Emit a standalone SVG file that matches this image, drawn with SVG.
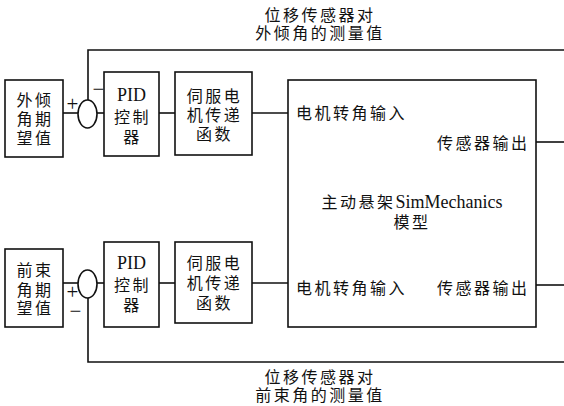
<svg xmlns="http://www.w3.org/2000/svg" width="564" height="406" viewBox="0 0 564 406">
  <style>
    .box { fill: #fff; stroke: #111; stroke-width: 1.6; }
    .sum { fill: #fff; stroke: #111; stroke-width: 1.6; }
    .wire { fill: none; stroke: #111; stroke-width: 1.6; }
    .cjk { font-family: "Noto Sans CJK SC", "Noto Sans", sans-serif; font-size: 16px; fill: #111; letter-spacing: 2.5px; }
    .lat { font-family: "Liberation Serif", serif; font-size: 18px; fill: #111; letter-spacing: 0; }
    .sign { font-family: "Liberation Serif", serif; font-size: 21px; fill: #111; }
    .mid { text-anchor: middle; }
  </style>
  <rect width="564" height="406" fill="#fff"/>

  <!-- connectors -->
  <g id="connectors">
    <!-- camber loop -->
    <line class="wire" x1="63" y1="113" x2="78" y2="113"/>
    <line class="wire" x1="97" y1="113" x2="104" y2="113"/>
    <line class="wire" x1="159" y1="113" x2="175" y2="113"/>
    <line class="wire" x1="252" y1="113" x2="288" y2="113"/>
    <line class="wire" x1="536" y1="142" x2="564" y2="142"/>
    <polyline class="wire" points="88,100 88,50 564,50"/>
    <!-- toe loop -->
    <line class="wire" x1="63" y1="283" x2="78" y2="283"/>
    <line class="wire" x1="97" y1="283" x2="104" y2="283"/>
    <line class="wire" x1="159" y1="283" x2="175" y2="283"/>
    <line class="wire" x1="252" y1="283" x2="288" y2="283"/>
    <line class="wire" x1="536" y1="285" x2="564" y2="285"/>
    <polyline class="wire" points="88,298 88,362 564,362"/>
  </g>

  <!-- feedback labels -->
  <g id="label-camber">
    <text class="cjk mid" x="320" y="21">位移传感器对</text>
    <text class="cjk mid" x="320" y="39">外倾角的测量值</text>
  </g>
  <g id="label-toe">
    <text class="cjk mid" x="320" y="383">位移传感器对</text>
    <text class="cjk mid" x="320" y="401">前束角的测量值</text>
  </g>

  <!-- camber loop nodes -->
  <g id="camber-setpoint">
    <rect class="box" x="5" y="80" width="58" height="77"/>
    <text class="cjk mid" x="35" y="106">外倾</text>
    <text class="cjk mid" x="35" y="125">角期</text>
    <text class="cjk mid" x="35" y="144">望值</text>
  </g>
  <g id="camber-sum">
    <ellipse class="sum" cx="87.5" cy="114" rx="9.5" ry="14"/>
    <text class="sign mid" x="72.5" y="111">+</text>
    <text class="sign mid" x="98.5" y="96">−</text>
  </g>
  <g id="camber-pid">
    <rect class="box" x="104" y="72" width="55" height="84"/>
    <text class="lat mid" x="131.5" y="101">PID</text>
    <text class="cjk mid" x="132.5" y="123">控制</text>
    <text class="cjk mid" x="132.5" y="143">器</text>
  </g>
  <g id="camber-servo">
    <rect class="box" x="175" y="72" width="77" height="83"/>
    <text class="cjk mid" x="214.5" y="102">伺服电</text>
    <text class="cjk mid" x="214.5" y="121">机传递</text>
    <text class="cjk mid" x="214.5" y="140">函数</text>
  </g>

  <!-- suspension model -->
  <g id="suspension-model">
    <rect class="box" x="288" y="80" width="248" height="247"/>
    <text class="cjk" x="296" y="119">电机转角输入</text>
    <text class="cjk" x="437" y="149">传感器输出</text>
    <text class="cjk mid" x="412" y="208">主动悬架<tspan class="lat" font-size="19">SimMechanics</tspan></text>
    <text class="cjk mid" x="412" y="228">模型</text>
    <text class="cjk" x="296" y="294">电机转角输入</text>
    <text class="cjk" x="437" y="294">传感器输出</text>
  </g>

  <!-- toe loop nodes -->
  <g id="toe-setpoint">
    <rect class="box" x="5" y="249" width="58" height="78"/>
    <text class="cjk mid" x="35" y="276">前束</text>
    <text class="cjk mid" x="35" y="296">角期</text>
    <text class="cjk mid" x="35" y="314">望值</text>
  </g>
  <g id="toe-sum">
    <ellipse class="sum" cx="87.5" cy="284" rx="9.5" ry="14"/>
    <text class="sign mid" x="72.5" y="299">+</text>
    <text class="sign mid" x="75.5" y="318">−</text>
  </g>
  <g id="toe-pid">
    <rect class="box" x="104" y="242" width="55" height="85"/>
    <text class="lat mid" x="131.5" y="269">PID</text>
    <text class="cjk mid" x="132.5" y="291">控制</text>
    <text class="cjk mid" x="132.5" y="311">器</text>
  </g>
  <g id="toe-servo">
    <rect class="box" x="175" y="242" width="77" height="81"/>
    <text class="cjk mid" x="214.5" y="269">伺服电</text>
    <text class="cjk mid" x="214.5" y="289">机传递</text>
    <text class="cjk mid" x="214.5" y="309">函数</text>
  </g>
</svg>
